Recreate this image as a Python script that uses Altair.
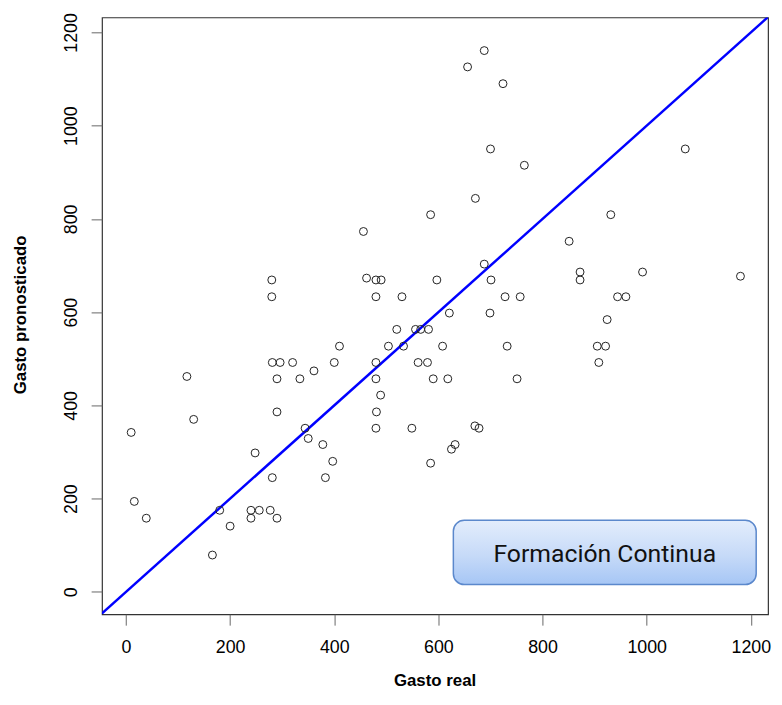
import altair as alt
import pandas as pd

# Observed values (Gasto real) and predicted values (Gasto pronosticado)
gasto_real = [10, 16, 39, 117, 130, 166, 180, 200, 240, 240, 248, 256, 277, 281, 290,
              290, 290, 281, 296, 320, 334, 361, 344, 350, 378, 397, 383, 400, 410, 480,
              480, 489, 481, 480, 504, 280, 280, 456, 462, 480, 490, 480, 688, 656, 724,
              700, 765, 1074, 671, 585, 931, 851, 688, 872, 872, 992, 1180, 597, 701, 530,
              728, 757, 944, 960, 621, 699, 924, 520, 556, 566, 581, 533, 608, 732, 905,
              921, 908, 561, 579, 590, 618, 751, 549, 670, 678, 632, 625, 585]
gasto_pron = [342, 194, 158, 462, 370, 79, 175, 141, 158, 175, 298, 175, 175, 245, 158,
              386, 457, 492, 492, 492, 457, 474, 351, 329, 316, 280, 245, 492, 527, 492,
              457, 422, 386, 351, 527, 669, 633, 773, 673, 669, 669, 633, 1161, 1126, 1090,
              950, 915, 950, 844, 809, 809, 752, 703, 686, 669, 686, 677, 669, 669, 633,
              633, 633, 633, 633, 598, 598, 584, 563, 563, 563, 563, 527, 527, 527, 527,
              527, 492, 492, 492, 457, 457, 457, 351, 356, 351, 316, 306, 276]

# y = x reference line
ref_line = [-60, 1250]
tick_values = [0, 200, 400, 600, 800, 1000, 1200]
label_text = ["Formación Continua"]

pts = pd.DataFrame({"real": gasto_real, "pron": gasto_pron})
line_df = pd.DataFrame({"real": ref_line, "pron": ref_line})
lab_df = pd.DataFrame({"t": label_text})

FONT = "Liberation Sans"

x_enc = alt.X(
    "real:Q",
    scale=alt.Scale(domain=[-46, 1233], nice=False, zero=False),
    axis=alt.Axis(
        values=tick_values, format="d", title="Gasto real", grid=False, domain=False,
        tickSize=11, tickColor="#666", labelFont=FONT, labelFontSize=18,
        labelColor="black", labelPadding=14, labelFlush=False,
        titleFont=FONT, titleFontSize=17, titleFontWeight="bold", titleColor="black",
        titleX=336, titleY=72, titleBaseline="alphabetic", titleAlign="center",
    ),
)
y_enc = alt.Y(
    "pron:Q",
    scale=alt.Scale(domain=[-48, 1232], nice=False, zero=False),
    axis=alt.Axis(
        values=tick_values, format="d", title="Gasto pronosticado", grid=False, domain=False,
        tickSize=11, tickColor="#666", labelFont=FONT, labelFontSize=18,
        labelColor="black", labelPadding=15, labelAngle=270, labelAlign="center",
        labelBaseline="alphabetic", labelFlush=False,
        titleFont=FONT, titleFontSize=17, titleFontWeight="bold", titleColor="black",
        titleAngle=270, titleX=-82, titleY=300, titleAlign="center", titleBaseline="middle",
    ),
)

line = alt.Chart(line_df).mark_line(color="#0000ff", strokeWidth=2.5, clip=True).encode(
    x=x_enc, y=y_enc
)

points = alt.Chart(pts).mark_point(
    shape="circle", filled=False, size=64, stroke="#222", strokeWidth=1, opacity=1
).encode(x=x_enc, y=y_enc)

shadow = alt.Chart(lab_df).mark_rect(
    cornerRadius=11, color="#000000", opacity=0.18, xOffset=1, yOffset=4
).encode(x=alt.value(355), x2=alt.value(661), y=alt.value(508), y2=alt.value(573))

box = alt.Chart(lab_df).mark_rect(
    cornerRadius=11,
    fill=alt.Gradient(
        gradient="linear",
        stops=[alt.GradientStop(color="#e3edfc", offset=0),
               alt.GradientStop(color="#c6daf8", offset=0.55),
               alt.GradientStop(color="#a6c6f5", offset=1)],
        x1=0, x2=0, y1=0, y2=1,
    ),
    stroke="#5b88cc", strokeWidth=1.5,
).encode(x=alt.value(355), x2=alt.value(661), y=alt.value(508), y2=alt.value(573))

text = alt.Chart(lab_df).mark_text(
    font="Liberation Sans Narrow, Roboto, sans-serif", fontSize=25, color="#111111",
    align="center", baseline="middle",
).encode(text="t:N", x=alt.value(508), y=alt.value(542))

chart = alt.layer(line, points, shadow, box, text).properties(
    width=673, height=603,
    autosize=alt.AutoSizeParams(type="none"),
    padding={"left": 95, "top": 6, "right": 6, "bottom": 77},
    background="white",
).configure_view(stroke="#333333", strokeWidth=1.2)

chart.save("out.html", embed_options={"renderer": "svg", "actions": False})
